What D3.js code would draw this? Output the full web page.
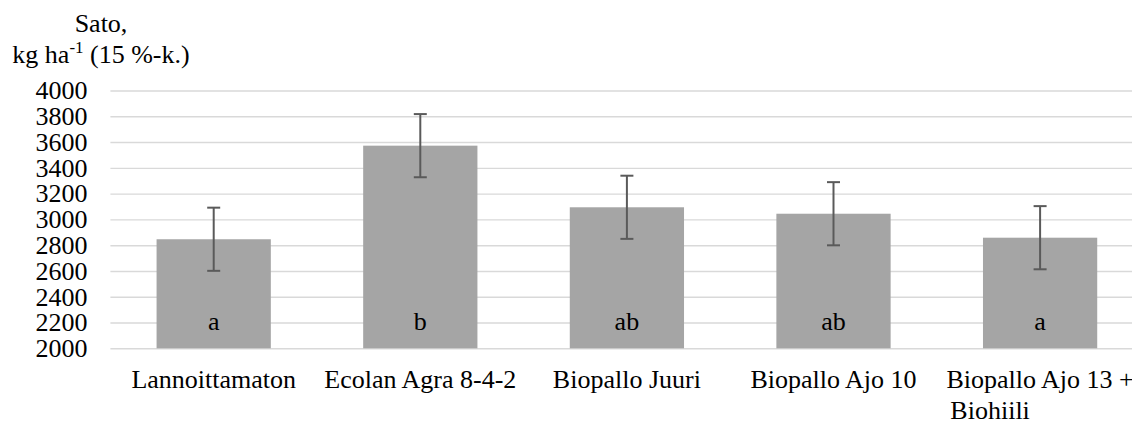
<!DOCTYPE html>
<html>
<head>
<meta charset="utf-8">
<script src="https://cdn.jsdelivr.net/npm/d3@7"></script>
<style>
  body { margin: 0; background: #fff; }
</style>
</head>
<body>
<div id="chart"></div>
<script>
// data
var categories = ["Lannoittamaton", "Ecolan Agra 8-4-2", "Biopallo Juuri", "Biopallo Ajo 10", "Biopallo Ajo 13 +|Biohiili"];
var yields = [2846, 3572, 3094, 3044, 2858];
var errors = [245, 245, 245, 245, 245];
var letters = ["a", "b", "ab", "ab", "a"];
var yTicks = [2000, 2200, 2400, 2600, 2800, 3000, 3200, 3400, 3600, 3800, 4000];

var data = categories.map(function (c, i) {
  return { cat: c, val: yields[i], err: errors[i], letter: letters[i] };
});

var FONT = "Liberation Serif";

// dimensions (plot continues past right edge, like the cropped original)
var W = 1132, H = 421;
var margin = { top: 90.5, left: 110.4 },
  plotW = 1033,
  plotH = 257.8;

var svg = d3.select("#chart")
  .append("svg")
  .attr("width", W)
  .attr("height", H)
  .attr("font-family", FONT);

var g = svg.append("g")
  .attr("transform", "translate(" + margin.left + "," + margin.top + ")");

var x = d3.scaleBand()
  .domain(categories)
  .range([0, plotW])
  .padding(0);

var y = d3.scaleLinear()
  .domain([2000, 4000])
  .range([plotH, 0]);

var barW = x.bandwidth() * 0.553;

// gridlines
g.append("g")
  .call(d3.axisLeft(y).tickValues(yTicks).tickSize(-plotW).tickFormat(""))
  .call(function (s) {
    s.select(".domain").remove();
    s.selectAll("line").attr("stroke", "#d9d9d9").attr("stroke-width", 1.4);
  });

// y tick labels
g.append("g")
  .call(d3.axisLeft(y).tickValues(yTicks).tickSize(0).tickPadding(23).tickFormat(d3.format("d")))
  .call(function (s) {
    s.attr("font-family", FONT).attr("font-size", 26);
    s.select(".domain").remove();
    s.selectAll("text").attr("fill", "#000").attr("font-family", FONT);
  });

// bars
g.selectAll("rect.bar")
  .data(data)
  .enter()
  .append("rect")
  .attr("class", "bar")
  .attr("x", function (d) { return x(d.cat) + (x.bandwidth() - barW) / 2; })
  .attr("y", function (d) { return y(d.val); })
  .attr("width", barW)
  .attr("height", function (d) { return plotH - y(d.val); })
  .attr("fill", "#a5a5a5");

// error bars
var eb = g.selectAll("g.err")
  .data(data)
  .enter()
  .append("g")
  .attr("class", "err")
  .attr("stroke", "#5a5a5a")
  .attr("stroke-width", 2);

var cx = function (d) { return x(d.cat) + x.bandwidth() / 2; };

eb.append("line")
  .attr("x1", cx).attr("x2", cx)
  .attr("y1", function (d) { return y(d.val + d.err); })
  .attr("y2", function (d) { return y(d.val - d.err); });
eb.append("line")
  .attr("x1", function (d) { return cx(d) - 6.5; })
  .attr("x2", function (d) { return cx(d) + 6.5; })
  .attr("y1", function (d) { return y(d.val + d.err); })
  .attr("y2", function (d) { return y(d.val + d.err); });
eb.append("line")
  .attr("x1", function (d) { return cx(d) - 6.5; })
  .attr("x2", function (d) { return cx(d) + 6.5; })
  .attr("y1", function (d) { return y(d.val - d.err); })
  .attr("y2", function (d) { return y(d.val - d.err); });

// significance letters
g.selectAll("text.letter")
  .data(data)
  .enter()
  .append("text")
  .attr("class", "letter")
  .attr("x", cx)
  .attr("y", plotH - 18)
  .attr("text-anchor", "middle")
  .attr("font-family", FONT)
  .attr("font-size", 26)
  .text(function (d) { return d.letter; });

// category labels
var cl = g.selectAll("text.cat")
  .data(data)
  .enter()
  .append("text")
  .attr("class", "cat")
  .attr("text-anchor", "middle")
  .attr("font-family", FONT)
  .attr("font-size", 26)
  .attr("transform", function (d) { return "translate(" + cx(d) + "," + (plotH + 39.5) + ")"; });

cl.each(function (d) {
  var parts = d.cat.split("|");
  var t = d3.select(this);
  parts.forEach(function (p, i) {
    t.append("tspan")
      .attr("x", i === 0 ? 0 : -50)
      .attr("dy", i === 0 ? 0 : 31)
      .text(p);
  });
});

// y axis title
var title = svg.append("text")
  .attr("text-anchor", "middle")
  .attr("transform", "translate(101,32)")
  .attr("font-family", FONT)
  .attr("font-size", 26);
title.append("tspan").attr("x", 0).text("Sato,");
title.append("tspan").attr("x", 0).attr("dy", 31).text("kg ha");
title.append("tspan").attr("dy", -10).attr("font-size", 17).text("-1");
title.append("tspan").attr("dy", 10).text(" (15 %-k.)");
</script>
</body>
</html>
